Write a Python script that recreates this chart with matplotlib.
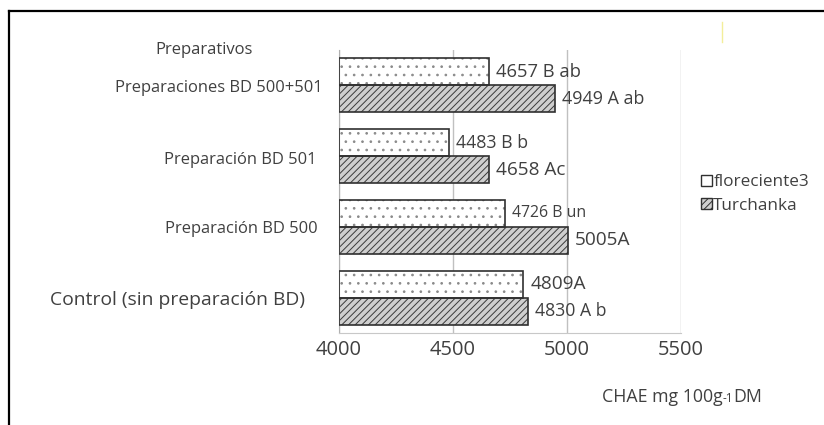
import numpy as np
import matplotlib
matplotlib.use("Agg")
import matplotlib.pyplot as plt
from matplotlib.patches import Patch
from matplotlib.lines import Line2D

plt.rcParams['font.family'] = ['Open Sans', 'DejaVu Sans']
plt.rcParams['hatch.linewidth'] = 0.7

# data (bottom to top)
categories = ["Control (sin preparación BD)", "Preparación BD 500",
              "Preparación BD 501", "Preparaciones BD 500+501"]
floreciente3 = [4809, 4726, 4483, 4657]
turchanka = [4830, 5005, 4658, 4949]
flor_labels = ["4809A", "4726 B un", "4483 B b", "4657 B ab"]
turch_labels = ["4830 A b", "5005A", "4658 Ac", "4949 A ab"]
xticks = [4000, 4500, 5000, 5500]

# styles
cat_sizes = [13.9, 11.9, 11.9, 11.9]
cat_dx = [-34, -21, -22, -16]          # right edge offset from axis, px
cat_dy = [-2, -2, -4, -3]
flor_sizes = [13.7, 11.4, 12.8, 13.2]
turch_sizes = [12.7, 13.7, 13.7, 12.9]
txt = '#404040'

W, H = 824, 425
fig = plt.figure(figsize=(W / 100, H / 100), dpi=100)
ax = fig.add_axes([339 / W, 1 - 333 / H, 342 / W, 283 / H])

y = np.arange(len(categories))
h = 0.38
yf = y + h / 2
yt = y - h / 2

# hatched fills
ax.barh(yf, np.array(floreciente3) - 4000, left=4000, height=h,
        color='white', edgecolor='#8a8a8a', hatch='..', lw=0, zorder=2)
ax.barh(yt, np.array(turchanka) - 4000, left=4000, height=h,
        color='#cfcfcf', edgecolor='#3a3a3a', hatch='/////', lw=0, zorder=2)
# outlines
ax.barh(yf, np.array(floreciente3) - 4000, left=4000, height=h,
        fill=False, edgecolor='#303030', lw=1.2, zorder=3)
ax.barh(yt, np.array(turchanka) - 4000, left=4000, height=h,
        fill=False, edgecolor='#303030', lw=1.2, zorder=3)

for i in range(len(categories)):
    ax.annotate(flor_labels[i], (floreciente3[i], yf[i]), xytext=(7, 0),
                textcoords='offset pixels', va='center', ha='left',
                fontsize=flor_sizes[i], color=txt)
    ax.annotate(turch_labels[i], (turchanka[i], yt[i]), xytext=(7, 0),
                textcoords='offset pixels', va='center', ha='left',
                fontsize=turch_sizes[i], color=txt)
    ax.annotate(categories[i], (0, y[i]), xycoords=('axes fraction', 'data'),
                xytext=(cat_dx[i], cat_dy[i]), textcoords='offset pixels',
                va='center', ha='right', fontsize=cat_sizes[i], color=txt)

ax.set_xlim(4000, 5500)
ax.set_ylim(-0.5, 3.5)
ax.set_xticks(xticks)
ax.set_xticklabels([str(v) for v in xticks], fontsize=14.5, color=txt)
ax.tick_params(axis='x', length=0, pad=5)
ax.set_yticks([])
ax.grid(axis='x', color='#c0c0c0', lw=1, zorder=0)
for s in ['top', 'right']:
    ax.spines[s].set_visible(False)
ax.spines['left'].set_color('#b0b0b0')
ax.spines['bottom'].set_color('#c8c8c8')

fig.text(204 / W, 1 - 50 / H, "Preparativos", ha='center', va='center',
         fontsize=12, color=txt)

# x axis title with small "-1"
t1 = fig.text(602 / W, 1 - 397 / H, "CHAE mg 100g", ha='left', va='center',
              fontsize=12.8, color=txt)
t2 = ax.annotate("-1", xy=(1.0, 0.08), xycoords=t1, va='bottom', ha='left',
                 fontsize=8.5, color=txt, annotation_clip=False)
ax.annotate("DM", xy=(1.0, -0.08), xycoords=t2, va='bottom', ha='left',
            fontsize=12.8, color=txt, annotation_clip=False)

handles = [Patch(facecolor='white', edgecolor='#303030', lw=1),
           Patch(facecolor='#cfcfcf', edgecolor='#303030', hatch='/////', lw=1)]
fig.legend(handles, ["floreciente3", "Turchanka"], loc='center left',
           bbox_to_anchor=(686 / W, 1 - 194 / H), frameon=False, fontsize=12.3,
           handlelength=0.6, handleheight=0.6, handletextpad=0.1,
           labelspacing=0.45, labelcolor=txt)

# outer frame (left and top) and small yellow mark
fig.add_artist(Line2D([9 / W, 9 / W], [0, 1 - 11 / H], color='black', lw=1.6))
fig.add_artist(Line2D([9 / W, 1], [1 - 11 / H, 1 - 11 / H], color='black', lw=1.6))
fig.add_artist(Line2D([722 / W, 722 / W], [1 - 22 / H, 1 - 42 / H],
                      color='#f3ee9a', lw=1))

fig.savefig("out.png", dpi=100)
